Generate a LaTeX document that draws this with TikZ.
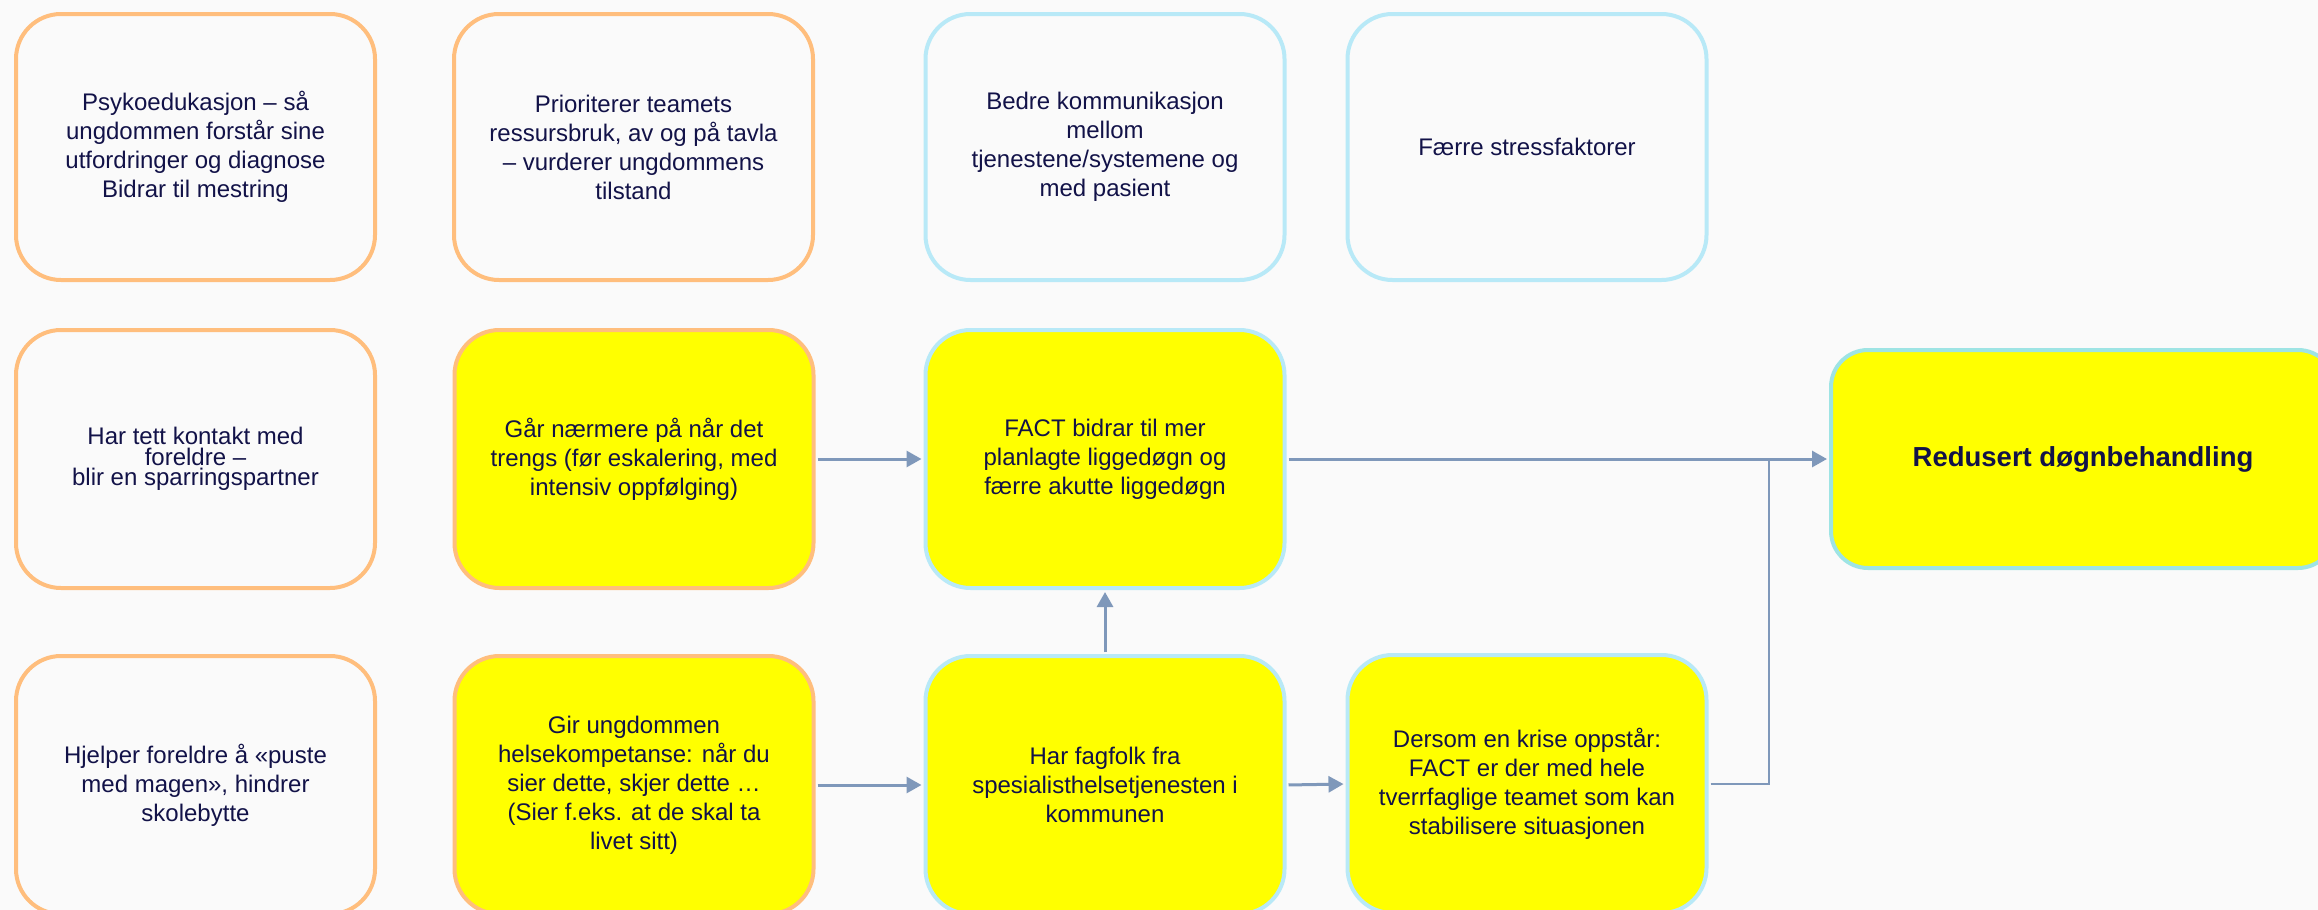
\documentclass[tikz,border=0pt]{standalone}
\usepackage{fontspec}
\setmainfont{Liberation Sans}
\usetikzlibrary{arrows.meta}
\definecolor{bgcol}{RGB}{250,250,250}
\definecolor{txtcol}{RGB}{18,18,72}
\definecolor{orangeb}{RGB}{255,190,125}
\definecolor{blueb}{RGB}{184,233,247}
\definecolor{tealb}{RGB}{158,228,228}
\definecolor{ylw}{RGB}{255,255,0}
\definecolor{arrcol}{RGB}{127,152,186}
\tikzset{
  box/.style={draw, line width=4pt, rounded corners=45pt, minimum width=359pt,
    minimum height=258pt, align=center, inner sep=0pt, text=txtcol,
    font=\fontsize{24}{29}\selectfont},
  toprow/.style={minimum height=266pt},
  obox/.style={box, draw=orangeb, fill=bgcol},
  bbox/.style={box, draw=blueb, fill=bgcol},
  oybox/.style={box, draw=orangeb, fill=ylw},
  bybox/.style={box, draw=blueb, fill=ylw},
  conn/.style={draw=arrcol, line width=3pt, shorten >=2pt, shorten <=2pt,
    -{Triangle[length=15pt,width=16pt]}},
  thinconn/.style={draw=arrcol, line width=2pt, shorten <=2pt},
}
\begin{document}
\begin{tikzpicture}[x=1pt,y=-1pt]
\useasboundingbox (0,0) rectangle (2318,910);
\fill[bgcol] (0,0) rectangle (2318,910);
% row 1
\node[obox, toprow] (b1) at (195.5,147) {Psykoedukasjon – så\\ungdommen forstår sine\\utfordringer og diagnose\\Bidrar til mestring};
\node[obox, toprow] (b2) at (633.5,147) {Prioriterer teamets\\ressursbruk, av og på tavla\\– vurderer ungdommens\\tilstand};
\node[bbox, toprow] (b3) at (1105,147) {Bedre kommunikasjon\\mellom\\tjenestene/systemene og\\med pasient};
\node[bbox, toprow] (b4) at (1527,147) {Færre stressfaktorer};
% row 2
\node[obox, font=\fontsize{24}{20.5}\selectfont] (c1) at (195.5,459) {Har tett kontakt med\\foreldre –\\blir en sparringspartner};
\node[oybox] (c2) at (634,459) {Går nærmere på når det\\trengs (før eskalering, med\\intensiv oppfølging)};
\node[bybox] (c3) at (1105,459) {FACT bidrar til mer\\planlagte liggedøgn og\\færre akutte liggedøgn};
\node[box, draw=tealb, fill=ylw, rounded corners=37pt, minimum width=504pt, minimum height=218pt,
  font=\fontsize{27.5}{33}\selectfont\bfseries] (r) at (2083,459) {Redusert døgnbehandling};
% row 3
\node[obox] (d1) at (195.5,785) {Hjelper foreldre å «puste\\med magen», hindrer\\skolebytte};
\node[oybox] (d2) at (634,785) {Gir ungdommen\\helsekompetanse: når du\\sier dette, skjer dette …\\(Sier f.eks. at de skal ta\\livet sitt)};
\node[bybox] (d3) at (1105,785) {Har fagfolk fra\\spesialisthelsetjenesten i\\kommunen};
\node[bybox] (d4) at (1527,784) {Dersom en krise oppstår:\\FACT er der med hele\\tverrfaglige teamet som kan\\stabilisere situasjonen};
% connectors
\coordinate (j) at (1769,459);
\draw[thinconn] (d4.east) -| (j);
\draw[conn] (c2.east) -- (c3.west);
\draw[conn] (c3.east) -- (r.west);
\draw[conn] (d3.north) -- (c3.south);
\draw[conn] (d2.east) -- (d3.west);
\draw[conn] (d3.east) -- (d4.west);
\end{tikzpicture}
\end{document}
